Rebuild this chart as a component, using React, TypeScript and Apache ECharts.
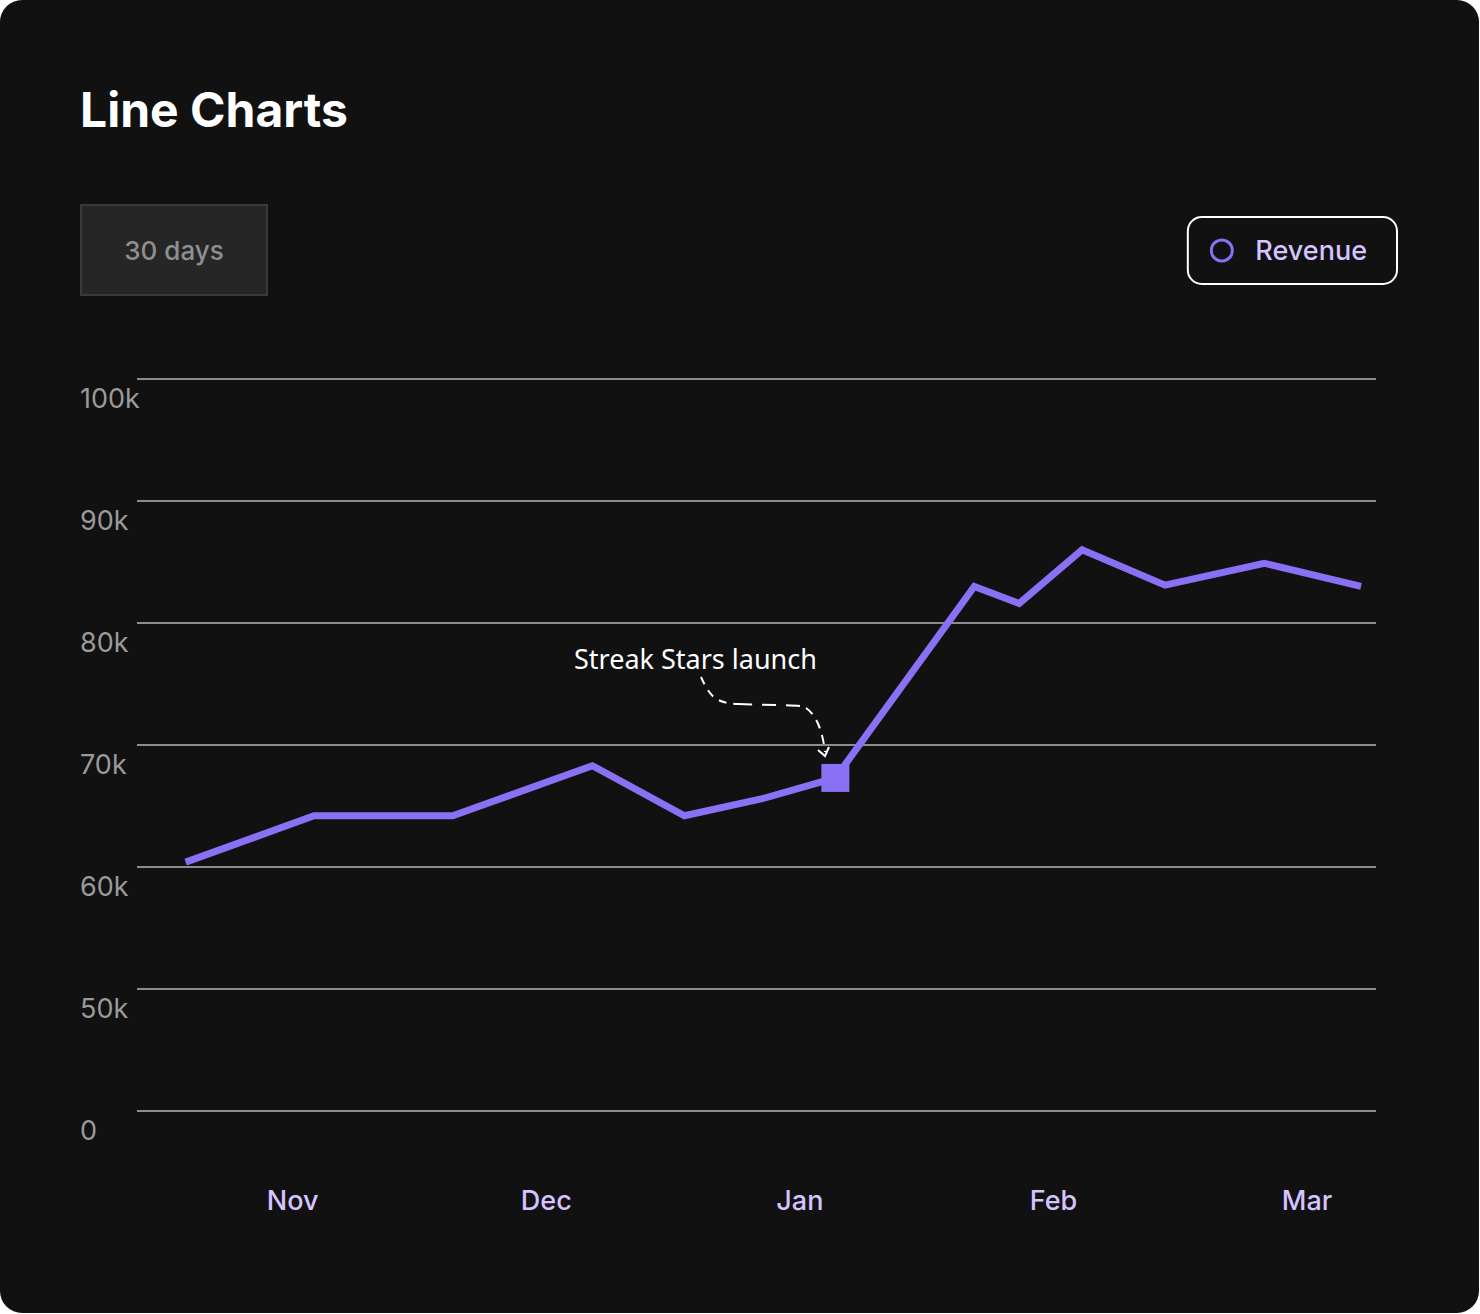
import React, { useEffect, useRef } from "react";
import * as echarts from "echarts";

// ---- data ----
const monthLabels = ["Nov", "Dec", "Jan", "Feb", "Mar"];
const monthPositions = [1, 2, 3, 4, 5];
// x positions in month units (1 = Nov, 2 = Dec, ...)
const pointMonths = [0.578, 1.084, 1.631, 2.182, 2.545, 2.852, 3.14, 3.688, 3.865, 4.113, 4.44, 4.831, 5.213];
const revenue = [60400, 64200, 64200, 68300, 64200, 65600, 67300, 83000, 81600, 86000, 83100, 84900, 83000];
const yTickLabels = ["0", "50k", "60k", "70k", "80k", "90k", "100k"];
const launchIndex = 6;
const seriesName = "Revenue";

// piecewise axis: 0 -> 0, 50k -> 1, then one unit per 10k
const toAxis = (v: number) => (v < 50000 ? v / 50000 : 1 + (v - 50000) / 10000);

const PURPLE = "#8a70f5";
const FONT = "Inter, 'Noto Sans', sans-serif";

export default function App() {
  const ref = useRef<HTMLDivElement>(null);

  useEffect(() => {
    document.body.style.margin = "0";
    if (!ref.current) return;
    const chart = echarts.init(ref.current, null, { renderer: "svg" });

    const data = pointMonths.map((m, i) => {
      const item: any = { value: [m, toAxis(revenue[i])] };
      if (i === launchIndex) {
        item.symbol = "rect";
        item.symbolSize = 28;
        item.itemStyle = { color: PURPLE };
      }
      return item;
    });

    chart.setOption({
      animation: false,
      backgroundColor: "transparent",
      textStyle: { fontFamily: FONT },
      grid: { left: 137, right: 103, top: 379, bottom: 202, outerBoundsMode: "none" },
      legend: {
        data: [{ name: seriesName, icon: "circle" }],
        right: 82,
        top: 217,
        padding: [20, 30, 20, 22],
        borderColor: "#ffffff",
        borderWidth: 2,
        borderRadius: 14,
        itemWidth: 21,
        itemHeight: 21,
        itemStyle: { color: "transparent", borderColor: PURPLE, borderWidth: 3 },
        textStyle: { color: "#d6c3ff", fontSize: 27, fontWeight: 500, fontFamily: FONT, padding: [0, 0, 0, 18] },
        selectedMode: false,
      },
      xAxis: {
        type: "value",
        min: 0.386,
        max: 5.272,
        axisLine: { show: false },
        axisTick: { show: false },
        splitLine: { show: false },
        axisLabel: {
          customValues: monthPositions,
          formatter: (v: number) => monthLabels[Math.round(v) - 1] ?? "",
          color: "#d6c3ff",
          fontSize: 27,
          fontWeight: 500,
          fontFamily: FONT,
          margin: 76,
        },
      },
      yAxis: {
        type: "value",
        min: 0,
        max: 6,
        interval: 1,
        axisLine: { show: false },
        axisTick: { show: false },
        splitLine: { show: true, lineStyle: { color: "#8c8c8c", width: 2 } },
        axisLabel: {
          formatter: (v: number) => yTickLabels[Math.round(v)] ?? "",
          align: "left",
          verticalAlign: "top",
          margin: 57,
          lineHeight: 28,
          padding: [5, 0, 0, 0],
          color: "#9a9a9a",
          fontSize: 27,
          fontFamily: FONT,
          showMinLabel: true,
          showMaxLabel: true,
        },
      },
      series: [
        {
          name: seriesName,
          type: "line",
          data,
          symbol: "none",
          color: PURPLE,
          lineStyle: { color: PURPLE, width: 7, join: "miter" },
          itemStyle: { color: PURPLE },
          z: 3,
        },
      ],
      graphic: [
        {
          type: "text",
          left: 80,
          top: 85,
          style: { text: "Line Charts", fill: "#ffffff", fontSize: 48, fontWeight: "bold", fontFamily: FONT },
        },
        {
          type: "rect",
          shape: { x: 81, y: 205, width: 186, height: 90 },
          style: { fill: "#262626", stroke: "#3a3a3e", lineWidth: 2 },
        },
        {
          type: "text",
          x: 174,
          y: 250,
          style: {
            text: "30 days",
            fill: "#8f8f8f",
            fontSize: 26,
            fontWeight: 500,
            fontFamily: FONT,
            align: "center",
            verticalAlign: "middle",
          },
        },
        {
          type: "text",
          x: 574,
          y: 658,
          style: {
            text: "Streak Stars launch",
            fill: "#ffffff",
            fontSize: 27,
            fontFamily: "'Comic Sans MS', 'Noto Sans', cursive",
            verticalAlign: "middle",
          },
        },
        {
          type: "bezierCurve",
          shape: { x1: 701, y1: 677, cpx1: 710, cpy1: 697, cpx2: 716, cpy2: 703, x2: 738, y2: 704 },
          style: { stroke: "#ffffff", lineWidth: 2, fill: "none", lineDash: [8, 7] },
        },
        {
          type: "bezierCurve",
          shape: { x1: 738, y1: 704, cpx1: 770, cpy1: 705, cpx2: 790, cpy2: 705, x2: 800, y2: 706 },
          style: { stroke: "#ffffff", lineWidth: 2, fill: "none", lineDash: [14, 10] },
        },
        {
          type: "bezierCurve",
          shape: { x1: 806, y1: 708, cpx1: 818, cpy1: 716, cpx2: 823, cpy2: 735, x2: 825, y2: 752 },
          style: { stroke: "#ffffff", lineWidth: 2, fill: "none", lineDash: [9, 7] },
        },
        {
          type: "polyline",
          shape: { points: [[818, 750], [825, 756], [829, 747]] },
          style: { stroke: "#ffffff", lineWidth: 2, fill: "none" },
        },
      ],
    });

    return () => chart.dispose();
  }, []);

  return (
    <div
      ref={ref}
      style={{
        width: 1479,
        height: 1313,
        background: "#111111",
        borderRadius: 22,
        overflow: "hidden",
      }}
    />
  );
}
